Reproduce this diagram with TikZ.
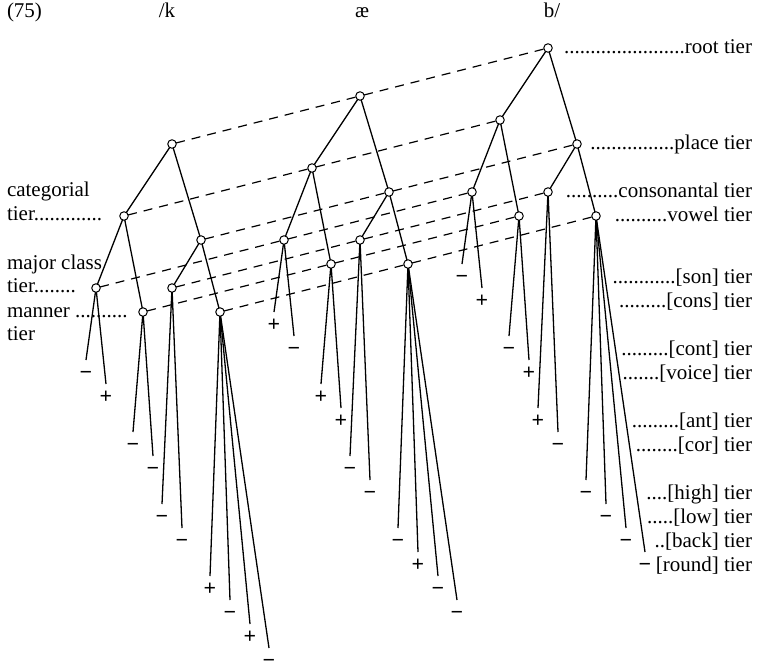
\documentclass[tikz,border=0pt]{standalone}
\usepackage{fontspec}
\setmainfont{Liberation Serif}
\begin{document}
\begin{tikzpicture}[x=1pt,y=-1pt,
  every node/.style={font=\fontsize{21}{25}\selectfont, inner sep=0pt, outer sep=0pt},
  tdot/.style={circle, draw, fill=white, minimum size=8.5pt, line width=1pt},
  branch/.style={line width=1.3pt},
  tierline/.style={line width=1.2pt, dash pattern=on 9pt off 7pt},
  sign/.style={anchor=base, font=\fontsize{22}{26}\selectfont\bfseries},
  lab/.style={anchor=base west},
  rlab/.style={anchor=base east}]
\useasboundingbox (0,0) rectangle (757,669);

% header
\node[lab] (num) at (7,18) {(75)};
\node[anchor=base] (seg1) at (167,18) {/k};
\node[anchor=base] (seg2) at (362,18) {æ};
\node[anchor=base] (seg3) at (552,18) {b/};

% three trees
\foreach \t/\dx/\dy in {1/0/0, 2/188/-48, 3/376/-96}{
  \begin{scope}[shift={(\dx,\dy)}]
    \node[tdot] (rt\t) at (172,144) {};
    \node[tdot] (ca\t) at (124,216) {};
    \node[tdot] (pl\t) at (201,240) {};
    \node[tdot] (ma\t) at (96,288) {};
    \node[tdot] (mn\t) at (143,312) {};
    \node[tdot] (cn\t) at (172,288) {};
    \node[tdot] (vw\t) at (220,312) {};
    \coordinate (son\t) at (86,360);
    \coordinate (cons\t) at (106,384);
    \coordinate (cont\t) at (133,432);
    \coordinate (voice\t) at (153,456);
    \coordinate (ant\t) at (162,504);
    \coordinate (cor\t) at (182,528);
    \coordinate (high\t) at (210,576);
    \coordinate (low\t) at (230,600);
    \coordinate (back\t) at (250,624);
    \coordinate (round\t) at (269,648);
    \draw[branch] (rt\t) -- (ca\t);
    \draw[branch] (rt\t) -- (pl\t);
    \draw[branch] (ca\t) -- (ma\t);
    \draw[branch] (ca\t) -- (mn\t);
    \draw[branch] (pl\t) -- (cn\t);
    \draw[branch] (pl\t) -- (vw\t);
    \draw[branch] (ma\t) -- (son\t);
    \draw[branch] (ma\t) -- (cons\t);
    \draw[branch] (mn\t) -- (cont\t);
    \draw[branch] (mn\t) -- (voice\t);
    \draw[branch] (cn\t) -- (ant\t);
    \draw[branch] (cn\t) -- (cor\t);
    \draw[branch] (vw\t) -- (high\t);
    \draw[branch] (vw\t) -- (low\t);
    \draw[branch] (vw\t) -- (back\t);
    \draw[branch] (vw\t) -- (round\t);
  \end{scope}
}

% tier association lines
\foreach \n in {rt,ca,pl,ma,mn,cn,vw}{
  \draw[tierline] (\n1) -- (\n2) -- (\n3);
}

% feature values
\foreach \f/\v in {son/−,cons/+,cont/−,voice/−,ant/−,cor/−,high/+,low/−,back/+,round/−}{
  \node[sign] at ([yshift=-19.5pt]\f1) {\v};
}
\foreach \f/\v in {son/+,cons/−,cont/+,voice/+,ant/−,cor/−,high/−,low/+,back/−,round/−}{
  \node[sign] at ([yshift=-19.5pt]\f2) {\v};
}
\foreach \f/\v in {son/−,cons/+,cont/−,voice/+,ant/+,cor/−,high/−,low/−,back/−,round/−}{
  \node[sign] at ([yshift=-19.5pt]\f3) {\v};
}

% left labels
\node[lab] (lcat) at (7,196) {categorial};
\node[lab] (lcat2) at (7,220) {tier.............};
\node[lab] (lmaj) at (7,269) {major class};
\node[lab] (lmaj2) at (7,292) {tier........};
\node[lab] (lman) at (7,317) {manner ..........};
\node[lab] (lman2) at (7,340) {tier};

% right labels
\node[rlab] (troot) at (752,53) {.......................root tier};
\node[rlab] (tplace) at (752,149) {................place tier};
\node[rlab] (tcons) at (752,197) {..........consonantal tier};
\node[rlab] (tvow) at (752,221) {..........vowel tier};
\node[rlab] (tson) at (752,283) {............[son] tier};
\node[rlab] (tcns) at (752,307) {.........[cons] tier};
\node[rlab] (tcont) at (752,355) {.........[cont] tier};
\node[rlab] (tvoice) at (752,379) {.......[voice] tier};
\node[rlab] (tant) at (752,427) {.........[ant] tier};
\node[rlab] (tcor) at (752,451) {........[cor] tier};
\node[rlab] (thigh) at (752,499) {....[high] tier};
\node[rlab] (tlow) at (752,523) {.....[low] tier};
\node[rlab] (tback) at (752,547) {..[back] tier};
\node[rlab] (tround) at (752,571) {[round] tier};
\end{tikzpicture}
\end{document}
